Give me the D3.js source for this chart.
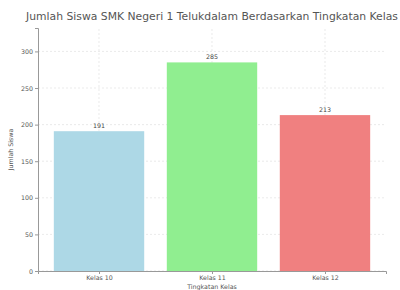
<!DOCTYPE html>
<html>
<head>
<meta charset="utf-8">
<script src="https://cdn.jsdelivr.net/npm/d3@7"></script>
<style>
  body { margin: 0; background: white; }
  svg { display: block; }
  text { font-family: "DejaVu Sans", sans-serif; }
</style>
</head>
<body>
<div id="chart"></div>
<script>
const categories = ["Kelas 10", "Kelas 11", "Kelas 12"];
const values = [191, 285, 213];
const colors = ["#add8e6", "#90ee90", "#f08080"];
const yTicks = [0, 50, 100, 150, 200, 250, 300];

const width = 400, height = 290;
const margin = {left: 38, right: 14, top: 28, bottom: 19};

const svg = d3.select("#chart").append("svg")
    .attr("width", width)
    .attr("height", height);

const x = d3.scaleLinear()
    .domain([-0.54, categories.length - 1 + 0.54])
    .range([margin.left, width - margin.right]);

const y = d3.scaleLinear()
    .domain([0, 332])
    .range([height - margin.bottom, margin.top]);

const barWidth = 0.8;

// grid
svg.append("g").selectAll("line.hg")
    .data(yTicks)
    .enter().append("line")
    .attr("x1", x.range()[0]).attr("x2", x.range()[1])
    .attr("y1", d => y(d)).attr("y2", d => y(d))
    .attr("stroke", "#dcdcdc").attr("stroke-width", 0.6)
    .attr("stroke-dasharray", "2,2");

svg.append("g").selectAll("line.vg")
    .data(categories)
    .enter().append("line")
    .attr("x1", (d, i) => x(i)).attr("x2", (d, i) => x(i))
    .attr("y1", y.range()[0]).attr("y2", y.range()[1])
    .attr("stroke", "#dcdcdc").attr("stroke-width", 0.6)
    .attr("stroke-dasharray", "2,2");

// bars
svg.append("g").selectAll("rect")
    .data(values)
    .enter().append("rect")
    .attr("x", (d, i) => x(i - barWidth / 2))
    .attr("width", (d, i) => x(i + barWidth / 2) - x(i - barWidth / 2))
    .attr("y", d => y(d))
    .attr("height", d => y(0) - y(d))
    .attr("fill", (d, i) => colors[i]);

// value labels
svg.append("g").selectAll("text")
    .data(values)
    .enter().append("text")
    .attr("x", (d, i) => x(i))
    .attr("y", d => y(d) - 3)
    .attr("text-anchor", "middle")
    .attr("font-size", 6.3)
    .attr("fill", "#444")
    .text(d => d);

// axes
const yAxis = d3.axisLeft(y).tickValues(yTicks).tickSize(3).tickPadding(2);
svg.append("g")
    .attr("transform", `translate(${margin.left},0)`)
    .call(yAxis)
    .call(g => g.select(".domain").attr("stroke", "#999"))
    .call(g => g.selectAll(".tick line").attr("stroke", "#999"))
    .call(g => g.selectAll("text").attr("font-size", 6.3).attr("fill", "#555").attr("font-family", "DejaVu Sans"));

const xAxis = d3.axisBottom(x).tickValues(d3.range(categories.length))
    .tickFormat(i => categories[i]).tickSize(3).tickPadding(2);
svg.append("g")
    .attr("transform", `translate(0,${height - margin.bottom})`)
    .call(xAxis)
    .call(g => g.select(".domain").attr("stroke", "#999"))
    .call(g => g.selectAll(".tick line").attr("stroke", "#999"))
    .call(g => g.selectAll("text").attr("font-size", 6.3).attr("fill", "#555").attr("font-family", "DejaVu Sans"));

// titles
svg.append("text")
    .attr("x", (x.range()[0] + x.range()[1]) / 2)
    .attr("y", 20)
    .attr("text-anchor", "middle")
    .attr("font-size", 10.8)
    .attr("fill", "#555")
    .text("Jumlah Siswa SMK Negeri 1 Telukdalam Berdasarkan Tingkatan Kelas");

svg.append("text")
    .attr("x", (x.range()[0] + x.range()[1]) / 2)
    .attr("y", 289)
    .attr("text-anchor", "middle")
    .attr("font-size", 6.3)
    .attr("fill", "#555")
    .text("Tingkatan Kelas");

svg.append("text")
    .attr("transform", `translate(13,${(y.range()[0] + y.range()[1]) / 2}) rotate(-90)`)
    .attr("text-anchor", "middle")
    .attr("font-size", 6.3)
    .attr("fill", "#555")
    .text("Jumlah Siswa");
</script>
</body>
</html>
